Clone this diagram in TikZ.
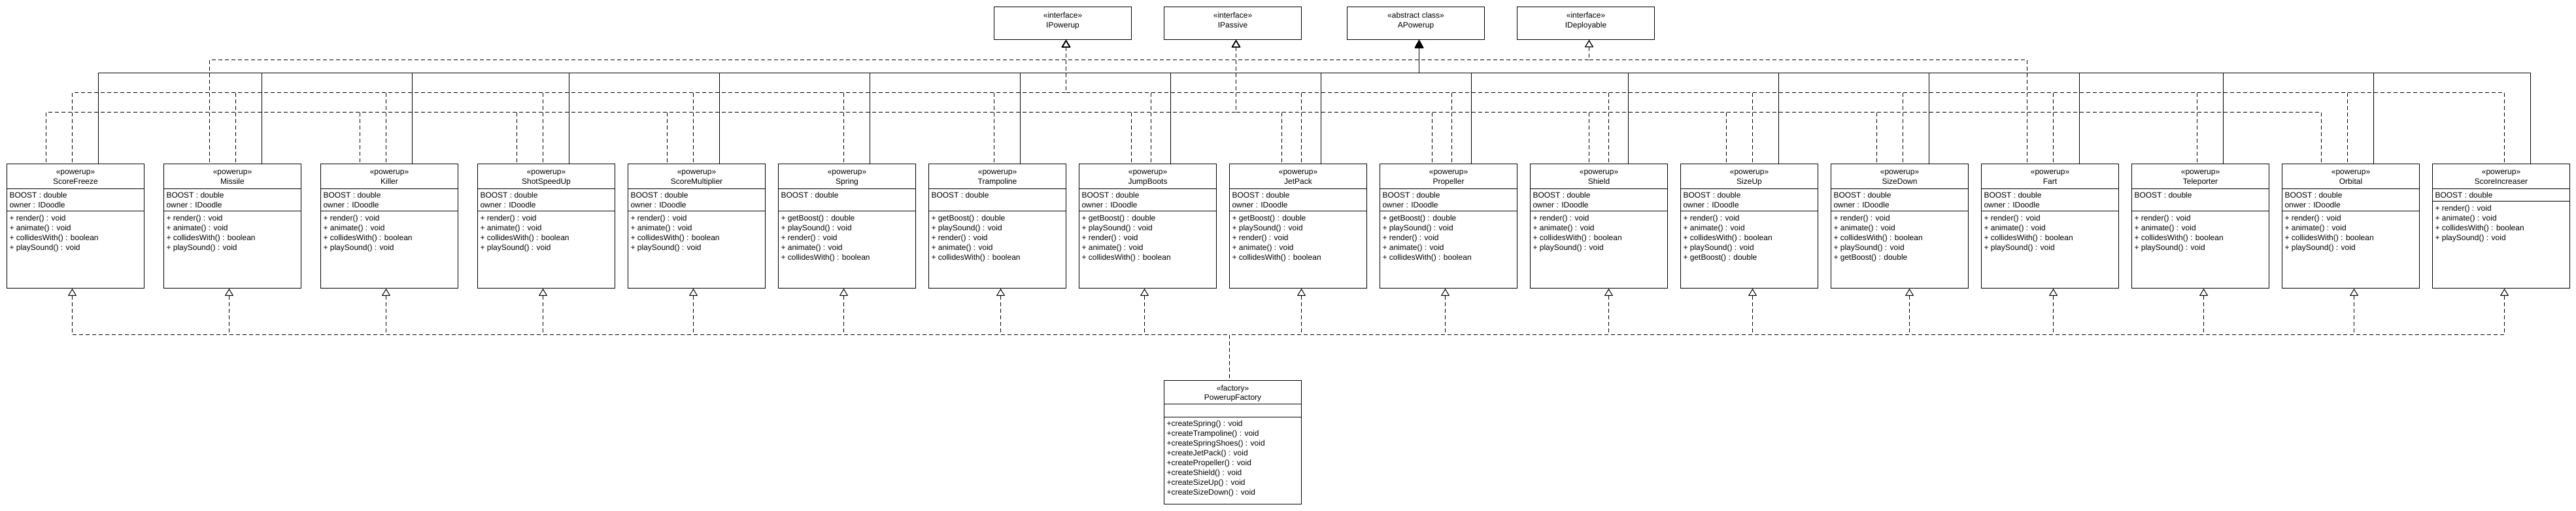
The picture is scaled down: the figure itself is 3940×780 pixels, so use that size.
\documentclass[tikz,border=0pt]{standalone}
\usepackage{fontspec}
\setmainfont{Liberation Sans}
\usetikzlibrary{arrows.meta}
\def\stdops{+ render() : void\\+ animate() : void\\+ collidesWith() : boolean\\+ playSound() : void}
\def\boostops{+ getBoost() : double\\+ playSound() : void\\+ render() : void\\+ animate() : void\\+ collidesWith() : boolean}
\def\sizeops{\stdops\\+ getBoost() : double}
\def\twoattr{BOOST : double\\owner : IDoodle}
% one powerup class box: [attr line] name, left x, title, attributes, methods
\newcommand{\powbox}[6][72]{%
  \node[classbox] (#2) at (#3,250) {};
  \node[titletext] (#2-title) at ([yshift=-6pt]#2.north) {\rule{0pt}{10pt}«powerup»\\#4};
  \draw ([yshift=-38pt]#2.north west) -- ([yshift=-38pt]#2.north east);
  \draw ([yshift=-#1pt]#2.north west) -- ([yshift=-#1pt]#2.north east);
  \node[membertext] (#2-attr) at ([shift={(4,42)}]#2.north west) {\rule{0pt}{10pt}#5};
  \node[membertext] (#2-ops) at ([shift={(4,#1+4.5)}]#2.north west) {\rule{0pt}{10pt}#6};
}
\begin{document}
\begin{tikzpicture}[x=1pt, y=-1pt, line width=1pt,
  classbox/.style={draw, fill=white, anchor=north west, minimum width=210pt, minimum height=190pt, inner sep=0pt},
  ifacebox/.style={draw, fill=white, anchor=north west, minimum width=210pt, minimum height=50pt, inner sep=0pt},
  titletext/.style={anchor=north, align=center, inner sep=0pt, font=\fontsize{12}{14.5}\selectfont},
  membertext/.style={anchor=north west, align=left, inner sep=0pt, font=\fontsize{12}{15}\selectfont},
  realize/.style={dash pattern=on 6pt off 4pt, {Triangle[open,length=11pt,width=13pt]}-},
  extend/.style={{Triangle[length=12pt,width=13pt]}-}]
\useasboundingbox (0,0) rectangle (3940,780);

% interfaces and abstract class
\node[ifacebox] (ipow) at (1520,10) {};
\node[titletext] (ipow-title) at ([yshift=-7pt]ipow.north) {\rule{0pt}{10pt}«interface»\\IPowerup};
\node[ifacebox] (ipas) at (1780,10) {};
\node[titletext] (ipas-title) at ([yshift=-7pt]ipas.north) {\rule{0pt}{10pt}«interface»\\IPassive};
\node[ifacebox] (apow) at (2060,10) {};
\node[titletext] (apow-title) at ([yshift=-7pt]apow.north) {\rule{0pt}{10pt}«abstract class»\\APowerup};
\node[ifacebox] (idep) at (2320,10) {};
\node[titletext] (idep-title) at ([yshift=-7pt]idep.north) {\rule{0pt}{10pt}«interface»\\IDeployable};

% powerups
\powbox{sfreeze}{10}{ScoreFreeze}{\twoattr}{\stdops}
\powbox{missile}{250}{Missile}{\twoattr}{\stdops}
\powbox{killer}{490}{Killer}{\twoattr}{\stdops}
\powbox{shotup}{730}{ShotSpeedUp}{\twoattr}{\stdops}
\powbox{smult}{960}{ScoreMultiplier}{\twoattr}{\stdops}
\powbox{spring}{1190}{Spring}{BOOST : double}{\boostops}
\powbox{tramp}{1420}{Trampoline}{BOOST : double}{\boostops}
\powbox{jboots}{1650}{JumpBoots}{\twoattr}{\boostops}
\powbox{jetpack}{1880}{JetPack}{\twoattr}{\boostops}
\powbox{prop}{2110}{Propeller}{\twoattr}{\boostops}
\powbox{shield}{2340}{Shield}{\twoattr}{\stdops}
\powbox{sizeup}{2570}{SizeUp}{\twoattr}{\sizeops}
\powbox{sizedown}{2800}{SizeDown}{\twoattr}{\sizeops}
\powbox{fart}{3030}{Fart}{\twoattr}{\stdops}
\powbox{tele}{3260}{Teleporter}{BOOST : double}{\stdops}
\powbox{orbital}{3490}{Orbital}{BOOST : double\\onwer : IDoodle}{\stdops}
\powbox[57]{sinc}{3720}{ScoreIncreaser}{BOOST : double}{\stdops}

% factory
\node[classbox, minimum height=189pt] (fact) at (1780,581) {};
\node[titletext] (fact-title) at ([yshift=-5.5pt]fact.north) {\rule{0pt}{10pt}«factory»\\PowerupFactory};
\draw ([yshift=-36pt]fact.north west) -- ([yshift=-36pt]fact.north east);
\draw ([yshift=-56pt]fact.north west) -- ([yshift=-56pt]fact.north east);
\node[membertext] (fact-ops) at ([shift={(4,60)}]fact.north west) {\rule{0pt}{10pt}+createSpring() : void\\+createTrampoline() : void\\+createSpringShoes() : void\\+createJetPack() : void\\+createPropeller() : void\\+createShield() : void\\+createSizeUp() : void\\+createSizeDown() : void};

% realizations and generalizations
\foreach \cls/\dx in {missile/-35, fart/-35}
  \draw[realize] ([xshift=5pt]idep.south) -- ++(0,30) -| ([xshift=\dx pt]\cls.north);
\foreach \cls/\dx in {sfreeze/35, missile/45, killer/35, shotup/35, smult/35, spring/35, tramp/35, jboots/35, jetpack/35, prop/35, shield/45, sizeup/45, sizedown/45, fart/45, tele/35, orbital/35, sinc/45}
  \draw[extend] ([xshift=5pt]apow.south) -- ++(0,50) -| ([xshift=\dx pt]\cls.north);
\foreach \cls/\dx in {sfreeze/-5, missile/5, killer/-5, shotup/-5, smult/-5, spring/-5, tramp/-5, jboots/5, jetpack/5, prop/5, shield/15, sizeup/5, sizedown/5, fart/5, tele/-5, orbital/-5, sinc/5}
  \draw[realize] ([xshift=5pt]ipow.south) -- ++(0,80) -| ([xshift=\dx pt]\cls.north);
\foreach \cls/\dx in {sfreeze/-45, killer/-45, shotup/-45, smult/-45, jboots/-25, jetpack/-25, prop/-25, shield/-15, sizeup/-35, sizedown/-35, orbital/-45}
  \draw[realize] ([xshift=5pt]ipas.south) -- ++(0,110) -| ([xshift=\dx pt]\cls.north);

% factory creates
\foreach \cls/\dx in {sfreeze/-5, missile/-5, killer/-5, shotup/-5, smult/-5, spring/-5, tramp/5, jboots/-5, jetpack/5, prop/-5, shield/15, sizeup/5, sizedown/15, fart/5, tele/5, orbital/5, sinc/5}
  \draw[realize] ([xshift=\dx pt]\cls.south) -- ++(0,70) -| ([xshift=-5pt]fact.north);
\end{tikzpicture}
\end{document}
